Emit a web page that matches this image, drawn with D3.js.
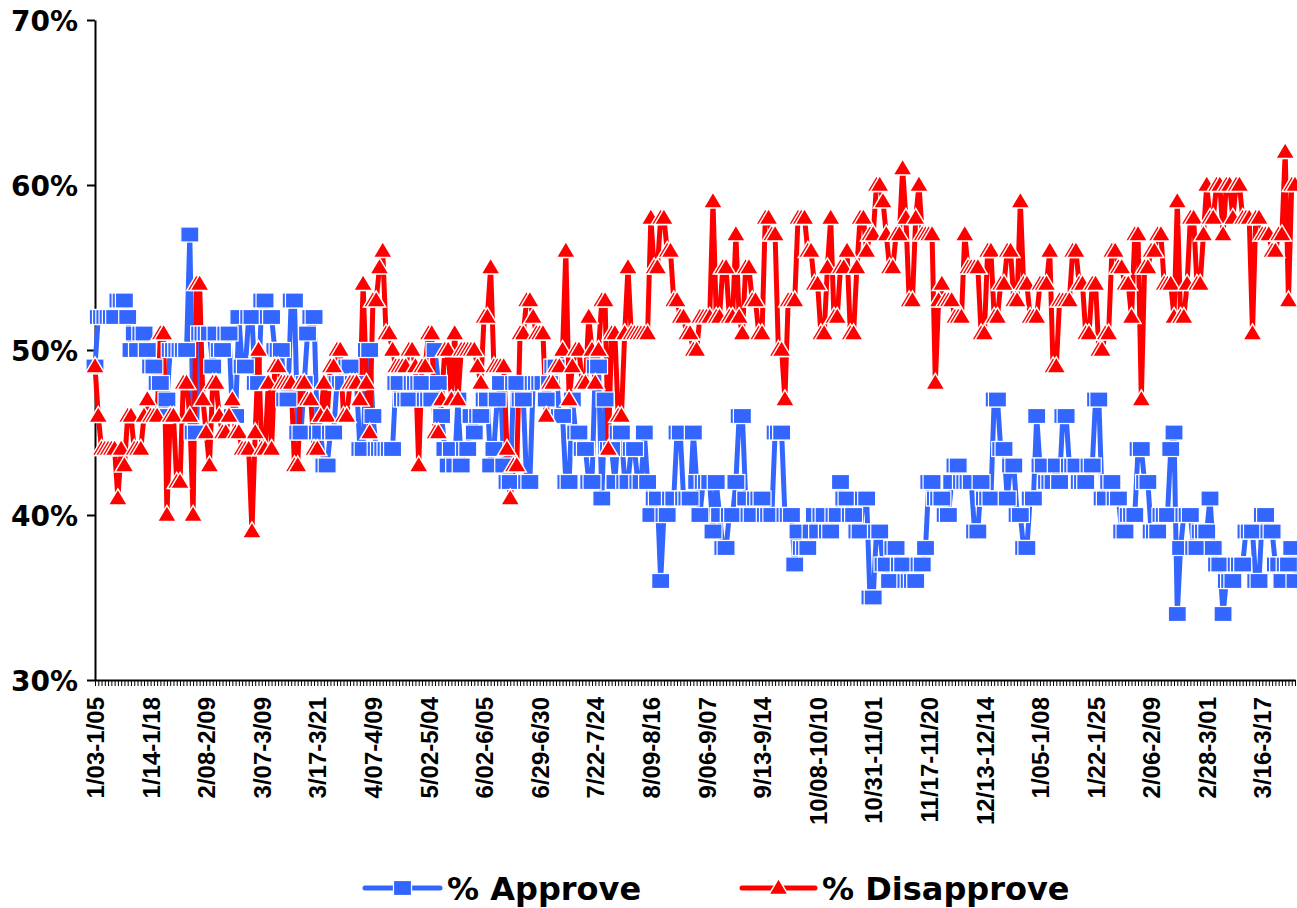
<!DOCTYPE html>
<html><head><meta charset="utf-8">
<script src="https://cdn.jsdelivr.net/npm/d3@7/dist/d3.min.js"></script>
<style>body{margin:0;background:#fff;} svg{display:block;}</style>
</head><body>
<svg id="chart" width="1297" height="908"></svg>
<script>
const tickLabels = ["1/03-1/05","1/14-1/18","2/08-2/09","3/07-3/09","3/17-3/21","4/07-4/09","5/02-5/04","6/02-6/05","6/29-6/30","7/22-7/24","8/09-8/16","9/06-9/07","9/13-9/14","10/08-10/10","10/31-11/01","11/17-11/20","12/13-12/14","1/05-1/08","1/22-1/25","2/06-2/09","2/28-3/01","3/16-3/17"];
const labelEvery = 17;
const yTicks = [30, 40, 50, 60, 70];
const seriesNames = ["% Approve", "% Disapprove"];

const approve = [
49,52,52,52,52,52,52,53,53,53,52,50,51,50,51,51,50,
49,49,48,48,46,47,50,50,50,50,50,50,57,45,45,51,51,
51,51,49,51,50,50,51,51,46,46,52,49,49,52,52,48,48,
53,53,52,52,50,50,50,47,47,53,53,45,45,48,51,52,52,
45,45,43,43,45,45,48,48,48,49,49,48,48,44,44,50,50,
46,44,44,44,44,44,44,48,48,47,47,47,48,48,48,48,47,
47,47,50,48,46,44,43,44,43,47,43,44,44,46,45,46,46,
47,47,43,44,47,48,43,42,42,48,48,47,47,42,42,48,48,
48,48,47,48,49,49,46,46,42,42,47,45,45,44,44,42,42,
49,49,41,47,44,44,42,45,45,42,42,44,44,42,42,45,42,
40,41,41,36,40,40,41,41,45,45,41,41,41,45,42,40,42,
42,42,39,42,40,38,38,40,40,42,46,46,41,40,40,41,41,
41,40,40,40,45,45,45,40,40,40,37,39,38,38,38,39,40,
39,40,40,39,39,40,40,42,41,41,40,40,39,39,41,41,35,
35,39,39,37,37,36,38,38,37,37,36,36,36,36,37,37,38,
42,42,41,41,41,40,40,42,43,43,42,42,42,42,39,39,42,
41,41,41,47,47,44,44,41,43,43,40,40,38,38,41,41,46,
43,43,42,42,42,43,42,46,46,43,43,43,42,42,42,43,43,
47,47,41,41,42,42,41,41,39,39,40,40,40,44,44,42,42,
39,39,39,40,40,40,44,45,34,38,40,40,40,38,38,39,39,
39,41,38,37,37,34,36,36,36,37,37,37,39,39,39,36,36,
40,40,39,39,37,37,36,37,37,38,36
];

const disapprove = [
49,46,44,44,44,44,44,41,44,43,46,46,44,44,44,46,47,
46,46,46,51,51,40,46,46,42,42,48,48,46,40,54,54,47,
45,43,48,48,46,45,45,46,47,45,45,44,44,44,39,45,50,
44,44,48,44,49,49,48,48,48,48,43,43,48,48,47,47,44,
44,46,48,46,49,49,50,50,46,46,48,48,48,47,54,48,45,
53,53,55,56,51,51,50,49,49,49,49,50,50,49,43,49,49,
51,51,45,45,47,50,50,47,51,47,50,50,50,50,50,49,48,
52,52,55,49,49,49,49,44,41,43,43,51,51,53,53,52,51,
51,51,46,48,48,49,49,50,56,47,49,50,50,48,48,52,50,
48,50,53,53,44,51,51,46,46,51,55,51,51,51,51,51,51,
58,55,55,58,58,56,56,53,53,52,52,51,51,50,50,52,52,
52,52,59,52,52,55,55,52,52,57,52,51,55,55,53,53,51,
51,58,58,57,57,50,50,47,53,53,53,58,58,58,56,56,54,
54,51,51,55,58,52,52,55,55,56,51,51,55,58,58,56,57,
57,60,60,59,57,55,55,57,57,61,58,53,53,58,60,57,57,
57,57,48,53,54,53,53,53,52,52,52,57,55,55,55,55,51,
51,56,56,52,52,54,54,56,56,53,53,59,54,54,52,52,52,
54,54,54,56,49,49,53,53,53,53,56,56,54,54,51,51,54,
54,50,50,51,51,56,56,55,55,54,54,52,57,57,47,55,55,
56,56,57,57,54,54,54,52,59,52,52,54,58,58,54,54,57,
60,58,58,60,60,57,60,60,58,60,60,58,58,58,51,58,58,
57,57,57,56,56,57,57,62,53,60,60
];

const BLUE = "#3366FF", RED = "#FF0000";
const categories = d3.range(approve.length);
const svg = d3.select("#chart");

const x = d3.scalePoint().domain(categories).range([95, 1295]);
const y = d3.scaleLinear().domain([30, 70]).range([680, 20]);

// Y axis
const yAxis = svg.append("g").attr("transform", "translate(95,0)")
  .call(d3.axisLeft(y).tickValues(yTicks).tickFormat(d => d + "%").tickSize(8).tickSizeOuter(0));
yAxis.select(".domain").attr("stroke", "#000").attr("stroke-width", 2);
yAxis.selectAll(".tick line").attr("stroke", "#000").attr("stroke-width", 2);
yAxis.selectAll(".tick text").attr("x", -17).attr("dy", "0.36em")
  .style("font-family", "'DejaVu Sans', sans-serif").style("font-weight", "bold").style("font-size", "28px").attr("fill", "#000");

// X axis minor ticks
const xMinor = svg.append("g").attr("transform", "translate(0,680)")
  .call(d3.axisBottom(x).tickValues(categories).tickFormat("").tickSize(6).tickSizeOuter(0));
xMinor.select(".domain").attr("stroke", "#000").attr("stroke-width", 2);
xMinor.selectAll(".tick line").attr("stroke", "#000").attr("stroke-width", 1);

// X axis labels
const xLab = svg.append("g").attr("transform", "translate(0,680)")
  .call(d3.axisBottom(x).tickValues(categories.filter(i => i % labelEvery === 0))
    .tickFormat(i => tickLabels[i / labelEvery]).tickSize(0).tickSizeOuter(0));
xLab.select(".domain").remove();
xLab.selectAll(".tick text")
  .attr("transform", "rotate(-90)").attr("text-anchor", "end")
  .attr("x", -17).attr("y", 0).attr("dy", "0.36em")
  .style("font-family", "'Liberation Sans', Arial, sans-serif").style("font-weight", "bold").style("font-size", "24px").attr("fill", "#000");

// Lines
const line = d3.line().x((d, i) => x(i)).y(d => y(d));
svg.append("path").datum(approve).attr("d", line).attr("fill", "none")
  .attr("stroke", BLUE).attr("stroke-width", 5).attr("stroke-linejoin", "round");
svg.append("path").datum(disapprove).attr("d", line).attr("fill", "none")
  .attr("stroke", RED).attr("stroke-width", 5).attr("stroke-linejoin", "round");

// Markers
const sqW = 18, sqH = 15;
svg.append("g").selectAll("rect").data(approve).join("rect")
  .attr("x", (d, i) => x(i) - sqW / 2).attr("y", d => y(d) - sqH / 2)
  .attr("width", sqW).attr("height", sqH)
  .attr("fill", BLUE).attr("stroke", "#fff").attr("stroke-width", 1.2);

const triW = 19, triH = 16;
const tri = `M0,${-triH * 0.6}L${triW / 2},${triH * 0.4}L${-triW / 2},${triH * 0.4}Z`;
svg.append("g").selectAll("path").data(disapprove).join("path")
  .attr("d", tri).attr("transform", (d, i) => `translate(${x(i)},${y(d)})`)
  .attr("fill", RED).attr("stroke", "#fff").attr("stroke-width", 1.5);

// Legend
const lg = svg.append("g").style("font-family", "'DejaVu Sans', sans-serif").style("font-weight", "bold").style("font-size", "32px");
const leg = [
  {name: seriesNames[0], color: BLUE, x0: 365, x1: 440, tx: 447, type: "sq"},
  {name: seriesNames[1], color: RED, x0: 742, x1: 815, tx: 822, type: "tri"}
];
const ly = 888;
leg.forEach(l => {
  lg.append("line").attr("x1", l.x0).attr("x2", l.x1).attr("y1", ly).attr("y2", ly)
    .attr("stroke", l.color).attr("stroke-width", 5).attr("stroke-linecap", "round");
  const cx = (l.x0 + l.x1) / 2;
  if (l.type === "sq") {
    lg.append("rect").attr("x", cx - sqW / 2).attr("y", ly - sqH / 2).attr("width", sqW).attr("height", sqH)
      .attr("fill", l.color).attr("stroke", "#fff").attr("stroke-width", 1.2);
  } else {
    lg.append("path").attr("d", tri).attr("transform", `translate(${cx},${ly})`)
      .attr("fill", l.color).attr("stroke", "#fff").attr("stroke-width", 1.5);
  }
  lg.append("text").attr("x", l.tx).attr("y", ly).attr("dy", "0.36em").text(l.name);
});
</script>
</body></html>
